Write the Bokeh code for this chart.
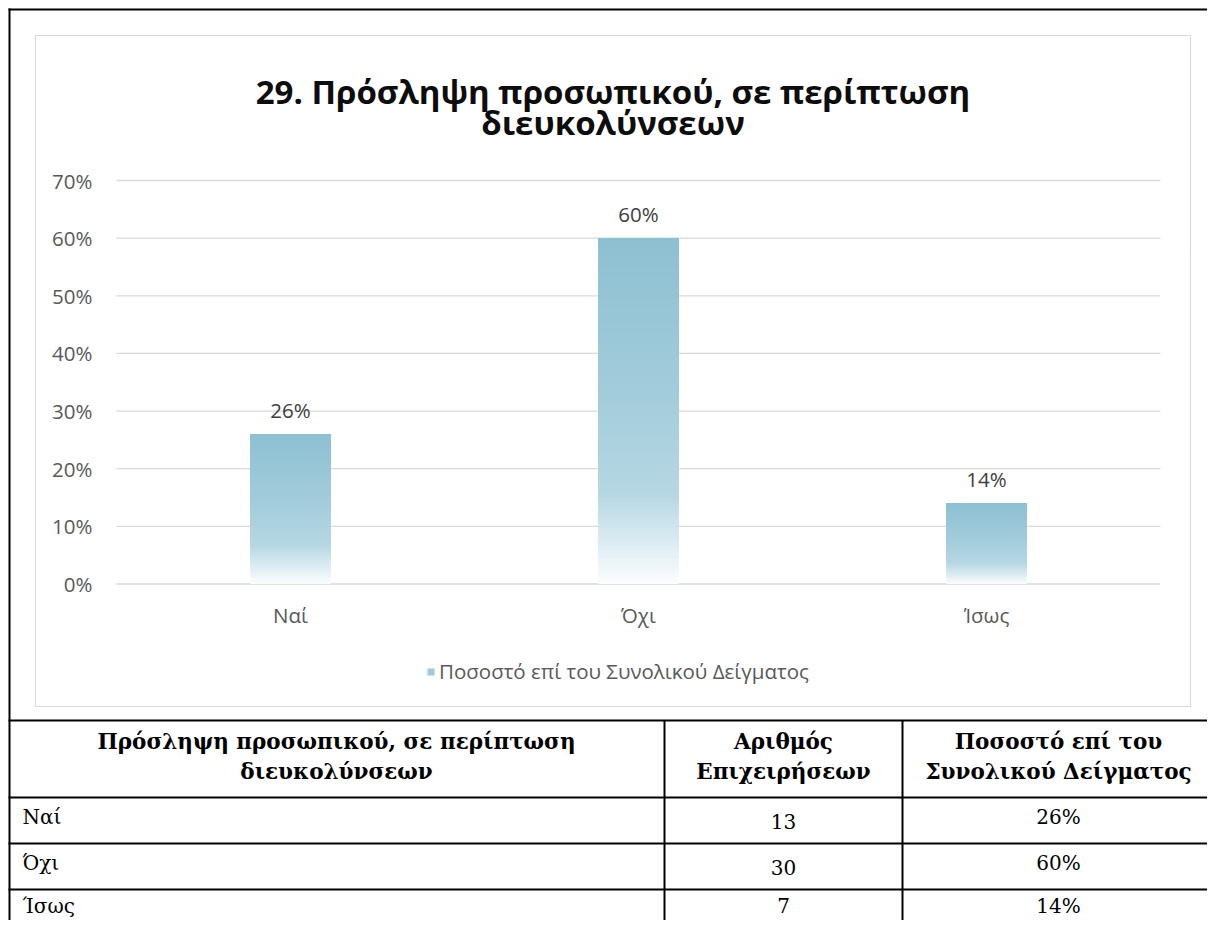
from bokeh.plotting import figure
from bokeh.models import Range1d, ColumnDataSource, Legend, LegendItem
from bokeh.embed import file_html
from bokeh.resources import INLINE
from bokeh.core.properties import value

# ---------------- data ----------------
categories = ["Ναί", "Όχι", "Ίσως"]
share = [0.26, 0.60, 0.14]
firms = [13, 30, 7]
share_labels = ["26%", "60%", "14%"]
y_ticks = [0.0, 0.1, 0.2, 0.3, 0.4, 0.5, 0.6, 0.7]
y_tick_labels = ["0%", "10%", "20%", "30%", "40%", "50%", "60%", "70%"]
title_lines = ["29. Πρόσληψη προσωπικού, σε περίπτωση", "διευκολύνσεων"]
series_name = "Ποσοστό επί του Συνολικού Δείγματος"
table_head_1 = ["Πρόσληψη προσωπικού, σε περίπτωση", "διευκολύνσεων"]
table_head_2 = ["Αριθμός", "Επιχειρήσεων"]
table_head_3 = ["Ποσοστό επί του", "Συνολικού Δείγματος"]

# ---------------- layout (pixels) ----------------
W, H = 1207, 920
B = 8                      # outer black frame offset
PLOT_L, PLOT_R = 116, 1160
ZERO_Y, TOP_Y = 583.5, 180.0
n = len(categories)
slot = (PLOT_R - PLOT_L) / n
yscale = (ZERO_Y - TOP_Y) / y_ticks[-1]
FS = "20.5px"

p = figure(width=W, height=H,
           x_range=Range1d(0, W), y_range=Range1d(H, 0),
           min_border=0, x_axis_type=None, y_axis_type=None,
           toolbar_location=None, output_backend="svg",
           outline_line_color=None, background_fill_color="white",
           border_fill_color="white")
p.extra_x_ranges = {"cat": Range1d(-PLOT_L / slot - 0.5, (W - PLOT_L) / slot - 0.5)}
p.extra_y_ranges = {"pct": Range1d(-(H - ZERO_Y) / yscale, ZERO_Y / yscale)}

# outer frames
p.segment(x0=[B, B + 1], y0=[B + 1, B], x1=[W, B + 1], y1=[B + 1, H],
          line_color="black", line_width=2)
p.quad(left=[35], right=[1190], top=[35], bottom=[706],
       fill_color=None, line_color="#d9d9d9", line_width=1.2)

# title
p.text(x=[612.5, 612.5], y=[91, 122], text=title_lines,
       text_font=value("Open Sans"), text_font_style="bold",
       text_font_size="33px", text_align="center", text_baseline="alphabetic",
       text_color="#0d0d0d")

# gridlines + tick labels
p.segment(x0=[-0.5] * len(y_ticks), x1=[n - 0.5] * len(y_ticks),
          y0=y_ticks, y1=y_ticks, line_color="#d9d9d9", line_width=1.3,
          x_range_name="cat", y_range_name="pct")
p.text(x=[-0.5] * len(y_ticks), y=y_ticks, text=y_tick_labels,
       x_offset=-24, text_align="right", text_baseline="middle",
       text_font=value("Open Sans"), text_font_size=FS, text_color="#595959",
       x_range_name="cat", y_range_name="pct")

# gradient bars
stops = [(0.0, (141, 192, 210)), (0.45, (163, 204, 219)), (0.74, (182, 215, 227)),
         (0.86, (214, 233, 240)), (1.0, (252, 253, 255))]


def grad(t):
    for (t0, c0), (t1, c1) in zip(stops[:-1], stops[1:]):
        if t <= t1:
            f = (t - t0) / (t1 - t0)
            c = [round(a + (b - a) * f) for a, b in zip(c0, c1)]
            return "#%02x%02x%02x" % tuple(c)
    return "#%02x%02x%02x" % stops[-1][1]


N = 80
xs, bots, tops, cols = [], [], [], []
for i, v in enumerate(share):
    for k in range(N):
        xs.append(i)
        bots.append(v * k / N)
        tops.append(v)
        cols.append(grad(1 - (k + 0.5) / N))
src = ColumnDataSource(dict(x=xs, bottom=bots, top=tops, color=cols))
bars = p.vbar(x="x", bottom="bottom", top="top", width=0.23, source=src,
              fill_color="color", line_color=None,
              x_range_name="cat", y_range_name="pct")

# data labels
p.text(x=list(range(n)), y=share, text=share_labels, y_offset=-24,
       text_align="center", text_baseline="middle",
       text_font=value("Open Sans"), text_font_size=FS, text_color="#404040",
       x_range_name="cat", y_range_name="pct")
# category labels
p.text(x=list(range(n)), y=[0] * n, text=categories, y_offset=31,
       text_align="center", text_baseline="middle",
       text_font=value("Open Sans"), text_font_size=FS, text_color="#595959",
       x_range_name="cat", y_range_name="pct")

# legend
leg = Legend(items=[LegendItem(label=series_name, renderers=[bars], index=int(N * 0.55))],
             location=(426, 235), orientation="horizontal",
             glyph_width=9, glyph_height=9, label_standoff=4,
             label_text_font="Open Sans", label_text_font_size=FS,
             label_text_color="#595959", border_line_color=None,
             background_fill_alpha=0, padding=0, margin=0, spacing=0)
p.add_layout(leg)

# table grid
hy = [720, 797, 843, 889]
p.segment(x0=[B] * len(hy), x1=[W] * len(hy), y0=hy, y1=hy,
          line_color="black", line_width=2)
p.segment(x0=[664, 902], x1=[664, 902], y0=[720, 720], y1=[H, H],
          line_color="black", line_width=2)

serif = value("DejaVu Serif")
col_c = [336, 783, 1058]
for cx, lines in zip(col_c, [table_head_1, table_head_2, table_head_3]):
    p.text(x=[cx, cx], y=[741, 771], text=lines, text_align="center",
           text_baseline="middle", text_font=serif, text_font_style="bold",
           text_font_size="21.5px", text_color="black")

row_top = hy[1:]
y_max = H - 15


def row_y(off):
    return [min(r + off, y_max) for r in row_top]


p.text(x=[22] * n, y=row_y(19), text=categories,
       text_align="left", text_baseline="middle", text_font=serif,
       text_font_size="20px", text_color="black")
p.text(x=[col_c[1]] * n, y=row_y(24), text=[str(f) for f in firms],
       text_align="center", text_baseline="middle", text_font=serif,
       text_font_size="20px", text_color="black")
p.text(x=[col_c[2]] * n, y=row_y(19), text=share_labels,
       text_align="center", text_baseline="middle", text_font=serif,
       text_font_size="20px", text_color="black")

open("out.html", "w").write(file_html(p, INLINE))
